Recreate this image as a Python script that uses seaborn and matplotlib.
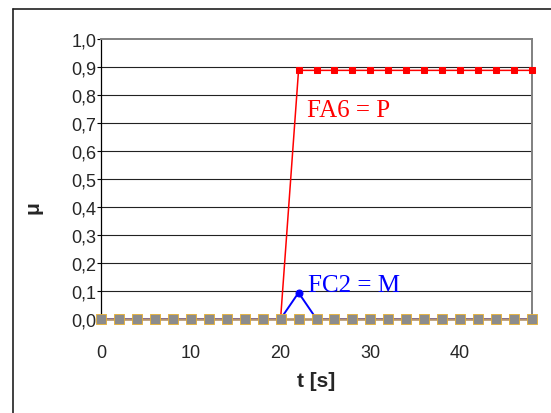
import numpy as np
import pandas as pd
import matplotlib
matplotlib.use("Agg")
import matplotlib.pyplot as plt
from matplotlib.lines import Line2D
import seaborn as sns

# ---- data ----
t = [0, 2, 4, 6, 8, 10, 12, 14, 16, 18, 20, 22, 24, 26, 28, 30, 32, 34, 36, 38, 40, 42, 44, 46, 48]
fa6 = [0, 0, 0, 0, 0, 0, 0, 0, 0, 0, 0, 0.888, 0.888, 0.888, 0.888, 0.888, 0.888, 0.888, 0.888,
       0.888, 0.888, 0.888, 0.888, 0.888, 0.888]
fc2 = [0, 0, 0, 0, 0, 0, 0, 0, 0, 0, 0, 0.094, 0, 0, 0, 0, 0, 0, 0, 0, 0, 0, 0, 0, 0]
others = [0] * 25
yticks = [0.0, 0.1, 0.2, 0.3, 0.4, 0.5, 0.6, 0.7, 0.8, 0.9, 1.0]
ytick_labels = ["0,0", "0,1", "0,2", "0,3", "0,4", "0,5", "0,6", "0,7", "0,8", "0,9", "1,0"]
xticks = [0, 10, 20, 30, 40]
label_fa6 = "FA6 = P"
label_fc2 = "FC2 = M"

sns.set_style("white")
plt.rcParams['font.family'] = ['Liberation Sans', 'DejaVu Sans']

W, H = 551, 414
fig = plt.figure(figsize=(W / 100, H / 100), dpi=100)
ax = fig.add_axes([101 / W, 1 - 320 / H, 431 / W, 280 / H])

df = pd.DataFrame({"t": t, "fa6": fa6, "fc2": fc2, "others": others})

# red and blue series
sns.lineplot(data=df, x="t", y="fa6", ax=ax, color="#FF0000", linewidth=1.1,
             marker="s", markersize=4.3, markeredgecolor="#FF0000", clip_on=False, zorder=3)
sns.lineplot(data=df, x="t", y="fc2", ax=ax, color="#0000FF", linewidth=1.4,
             marker="o", markersize=5, markeredgecolor="#0000FF", clip_on=False, zorder=3)
# the other (zero) series: tan line, grey square markers with gold edge
sns.lineplot(data=df, x="t", y="others", ax=ax, color="#B8956A", linewidth=1.8,
             clip_on=False, zorder=4)
sns.scatterplot(data=df, x="t", y="others", ax=ax, marker="s", s=42,
                color="#8C8C8C", edgecolor="#E8B030", linewidth=0.6,
                clip_on=False, zorder=5)

ax.set_xlim(0, 48)
ax.set_ylim(0, 1.0)
ax.set_yticks(yticks)
ax.set_yticklabels(ytick_labels, fontsize=13)
ax.set_xticks(xticks)
ax.set_xticklabels([str(v) for v in xticks], fontsize=13)

for v in yticks[:-1]:
    ax.axhline(v, color="#222222", linewidth=0.8, zorder=1)

ax.spines["left"].set_color("#000000")
ax.spines["left"].set_linewidth(0.9)
ax.spines["bottom"].set_color("#000000")
ax.spines["bottom"].set_linewidth(0.9)
ax.spines["top"].set_color("#808080")
ax.spines["top"].set_linewidth(1.4)
ax.spines["right"].set_color("#808080")
ax.spines["right"].set_linewidth(1.4)

ax.tick_params(axis="y", direction="out", length=3, width=0.8, pad=0.5, left=True, color="#000000")
ax.tick_params(axis="x", direction="out", length=3, width=0.8, pad=15, bottom=True, color="#000000")

ax.set_xlabel("")
ax.set_ylabel("")
fig.text(316 / W, 1 - 382 / H, "t [s]", fontsize=15, fontweight="bold", ha="center", va="center")
fig.text(33 / W, 1 - 208 / H, "μ", fontsize=15, fontweight="bold", rotation=90, ha="center", va="center")

ax.text(22.9, 0.726, label_fa6, color="#FF0000", fontsize=18,
        family=["Liberation Serif", "DejaVu Serif"], ha="left", va="baseline")
ax.text(23.0, 0.101, label_fc2, color="#0000FF", fontsize=18,
        family=["Liberation Serif", "DejaVu Serif"], ha="left", va="baseline")

# outer chart border (left and top)
fig.add_artist(Line2D([13 / W, 13 / W], [0, 1 - 10 / H], transform=fig.transFigure,
                      color="#202020", linewidth=1.2))
fig.add_artist(Line2D([13 / W, 1], [1 - 10 / H, 1 - 10 / H], transform=fig.transFigure,
                      color="#202020", linewidth=1.2))

fig.savefig("out.png", dpi=100)
